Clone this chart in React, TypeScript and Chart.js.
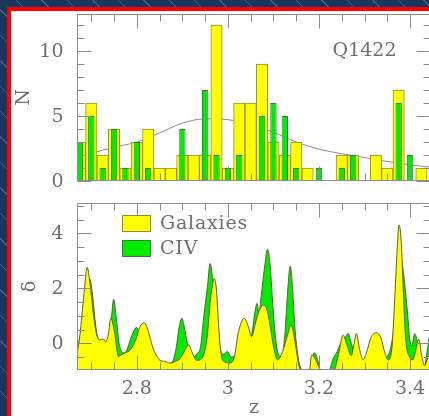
import React, { useEffect, useRef } from 'react';
import { Chart, registerables } from 'chart.js';

Chart.register(...registerables);

// ---- Histogram (upper panel): bin centres in z and counts per bin ----
const binZ = [2.675, 2.7, 2.725, 2.75, 2.775, 2.8, 2.825, 2.85, 2.875, 2.9, 2.925, 2.95, 2.975, 3.0, 3.025, 3.05,
  3.075, 3.1, 3.125, 3.15, 3.175, 3.2, 3.225, 3.25, 3.275, 3.3, 3.325, 3.35, 3.375, 3.4, 3.425, 3.45];
const galaxyCounts = [3, 6, 2, 4, 1, 3, 4, 1, 1, 2, 2, 2, 12, 1, 6, 6, 9, 3, 2, 3, 1, 0, 0, 2, 2, 0, 2, 1, 7, 0, 1, 0];
const civCounts = [3, 5, 1, 4, 1, 3, 1, 0, 0, 4, 0, 7, 2, 1, 2, 0, 5, 6, 5, 1, 0, 1, 0, 1, 2, 0, 0, 0, 6, 2, 0, 0];

// Smooth selection curve drawn under the histogram
const curveZ = [2.668, 2.70, 2.75, 2.80, 2.85, 2.90, 2.95, 3.00, 3.05, 3.10, 3.15, 3.20, 3.25, 3.30, 3.35, 3.40, 3.446];
const curveN = [1.95, 2.15, 2.6, 3.0, 3.7, 4.45, 4.78, 4.72, 4.35, 3.75, 3.0, 2.45, 2.1, 1.8, 1.5, 1.25, 1.05];

// ---- Overdensity (lower panel): [z, delta] ----
const galaxyDelta: [number, number][] = [
  [2.668, -0.45], [2.675, 0.3], [2.684, 1.8], [2.691, 2.76], [2.697, 2.2], [2.705, 1.0], [2.712, 0.3], [2.719, 0.12],
  [2.726, 0.16], [2.732, 0.05], [2.737, 0.3], [2.743, 0.91], [2.750, 0.5], [2.760, -0.49], [2.765, -0.42], [2.774, -0.35],
  [2.785, -0.25], [2.798, 0.15], [2.807, 0.6], [2.816, 0.75], [2.825, 0.45], [2.834, -0.1], [2.843, -0.45], [2.851, -0.62],
  [2.862, -0.66], [2.873, -0.72], [2.884, -0.66], [2.895, -0.55], [2.904, -0.3], [2.914, -0.06], [2.922, -0.35], [2.931, -0.62],
  [2.939, -0.6], [2.948, -0.35], [2.955, 0.3], [2.961, 1.5], [2.966, 2.1], [2.970, 2.36], [2.975, 1.9], [2.979, 0.8],
  [2.983, -0.1], [2.988, -0.6], [2.997, -0.7], [3.005, -0.72], [3.014, -0.5], [3.023, 0.4], [3.036, 0.91], [3.045, 0.6],
  [3.052, 0.24], [3.060, 0.7], [3.069, 1.2], [3.079, 1.39], [3.087, 1.15], [3.093, 0.6], [3.100, -0.1], [3.109, -0.6],
  [3.120, -0.3], [3.131, 0.3], [3.139, 0.67], [3.146, 0.2], [3.155, -0.73], [3.162, -1.1], [3.171, -1.3], [3.179, -1.0],
  [3.184, -0.43], [3.193, -0.6], [3.204, -1.05], [3.212, -1.3], [3.226, -1.2], [3.234, -1.0], [3.243, -0.4], [3.253, 0.3],
  [3.262, -0.1], [3.271, -0.45], [3.277, 0.0], [3.282, 0.36], [3.289, -0.2], [3.297, -0.6], [3.305, -0.3], [3.314, 0.2],
  [3.326, 0.39], [3.336, 0.2], [3.344, -0.3], [3.352, -0.6], [3.360, -0.2], [3.366, 1.5], [3.371, 3.2], [3.376, 4.3],
  [3.381, 3.6], [3.385, 2.0], [3.389, 0.5], [3.393, -0.2], [3.399, -0.5], [3.406, -0.6], [3.412, -0.3], [3.419, 0.15],
  [3.426, -0.5], [3.432, -0.8], [3.441, -0.4], [3.448, -0.2],
];
const civDelta: [number, number][] = [
  [2.668, -0.25], [2.675, 0.2], [2.682, 1.0], [2.689, 1.9], [2.697, 2.33], [2.703, 1.7], [2.710, 0.6], [2.717, 0.0],
  [2.723, -0.2], [2.730, -0.1], [2.737, 0.1], [2.744, 0.9], [2.749, 1.6], [2.755, 0.9], [2.761, 0.0], [2.767, -0.3],
  [2.772, -0.35], [2.779, -0.2], [2.785, 0.1], [2.792, 0.4], [2.799, 0.58], [2.805, 0.4], [2.812, 0.1], [2.818, -0.2],
  [2.829, -0.5], [2.840, -0.6], [2.851, -0.65], [2.864, -0.75], [2.877, -0.7], [2.886, -0.2], [2.893, 0.6], [2.899, 0.91],
  [2.904, 0.6], [2.911, 0.0], [2.918, -0.4], [2.924, -0.5], [2.932, -0.38], [2.940, -0.12], [2.947, 0.97], [2.955, 2.06],
  [2.961, 2.9], [2.966, 2.4], [2.970, 1.6], [2.977, 0.6], [2.983, -0.2], [2.990, -0.4], [2.999, -0.3], [3.007, -0.5],
  [3.016, -0.4], [3.025, 0.1], [3.032, 0.36], [3.040, 0.0], [3.047, -0.1], [3.054, 0.5], [3.064, 1.45], [3.068, 1.1],
  [3.073, 1.7], [3.080, 2.7], [3.087, 3.42], [3.093, 2.8], [3.099, 1.3], [3.107, -0.12], [3.118, -0.49], [3.125, 0.3],
  [3.130, 1.6], [3.137, 2.81], [3.142, 2.0], [3.147, 0.6], [3.154, -0.5], [3.160, -0.9], [3.167, -1.2], [3.176, -1.3],
  [3.182, -0.8], [3.190, -0.34], [3.197, -0.6], [3.203, -1.0], [3.212, -1.4], [3.223, -1.0], [3.230, -0.6], [3.240, -0.3],
  [3.248, 0.0], [3.256, 0.15], [3.264, 0.36], [3.271, 0.0], [3.278, -0.4], [3.285, -0.6], [3.294, -0.8], [3.305, -0.8],
  [3.316, -0.6], [3.327, -0.5], [3.338, -0.6], [3.349, -0.5], [3.357, -0.2], [3.364, 0.5], [3.371, 1.6], [3.377, 2.6],
  [3.381, 2.97], [3.386, 2.5], [3.391, 1.7], [3.395, 1.0], [3.399, 0.2], [3.404, -0.1], [3.410, 0.35], [3.417, 0.0],
  [3.424, -0.6], [3.430, -0.9], [3.438, -0.24], [3.443, 0.3], [3.448, 0.6],
];

// ---- Axis ranges, ticks and labels ----
const zRange = [2.6686, 3.446];
const nRange = [0, 12.85];
const deltaRange = [-0.97, 5.1];
const zTicks = [2.7, 2.75, 2.8, 2.85, 2.9, 2.95, 3.0, 3.05, 3.1, 3.15, 3.2, 3.25, 3.3, 3.35, 3.4];
const zMajorTicks = [2.8, 3.0, 3.2, 3.4];
const zTickLabels = ['2.8', '3', '3.2', '3.4'];
const nTicks = [0, 1, 2, 3, 4, 5, 6, 7, 8, 9, 10, 11, 12];
const nMajorTicks = [0, 5, 10];
const nTickLabels = ['0', '5', '10'];
const deltaTicks = [-0.5, 0, 0.5, 1, 1.5, 2, 2.5, 3, 3.5, 4, 4.5, 5];
const deltaMajorTicks = [0, 2, 4];
const deltaTickLabels = ['0', '2', '4'];
const seriesNames = ['Galaxies', 'CIV'];
const fieldName = 'Q1422';

const FONT_FAMILY = '"DejaVu Serif", "Liberation Serif", serif';
const INK = '#6f6f6f';
const AXIS = '#8a8a8a';
const YELLOW = '#ffff00';
const GREEN = '#00ec00';
const YELLOW_EDGE = '#8e8e3c';
const GREEN_EDGE = '#3a7a3a';
const CURVE_EDGE = '#5e5e34';

function drawFrame(chart: any, yTicks: number[], yMajor: number[]) {
  const { ctx, chartArea: a } = chart;
  const xs = chart.scales.x;
  const ys = chart.scales.y;
  const L = Math.round(a.left) + 0.5;
  const R = Math.round(a.right) - 0.5;
  const T = Math.round(a.top) + 0.5;
  const B = Math.round(a.bottom) - 0.5;
  ctx.save();
  ctx.strokeStyle = AXIS;
  ctx.lineWidth = 1;
  ctx.beginPath();
  ctx.rect(L, T, R - L, B - T);
  for (const v of zTicks) {
    const px = Math.round(xs.getPixelForValue(v)) + 0.5;
    const len = zMajorTicks.includes(v) ? 14 : 7;
    ctx.moveTo(px, T);
    ctx.lineTo(px, T + len);
    ctx.moveTo(px, B);
    ctx.lineTo(px, B - len);
  }
  for (const v of yTicks) {
    const py = Math.round(ys.getPixelForValue(v)) + 0.5;
    const len = yMajor.includes(v) ? 14 : 7;
    ctx.moveTo(L, py);
    ctx.lineTo(L + len, py);
    ctx.moveTo(R, py);
    ctx.lineTo(R - len, py);
  }
  ctx.stroke();
  ctx.restore();
}

function drawYLabels(chart: any, values: number[], labels: string[]) {
  const { ctx, chartArea: a } = chart;
  const ys = chart.scales.y;
  ctx.save();
  ctx.fillStyle = INK;
  ctx.font = `19px ${FONT_FAMILY}`;
  ctx.textAlign = 'right';
  ctx.textBaseline = 'middle';
  values.forEach((v, i) => ctx.fillText(labels[i], a.left - 13.5, ys.getPixelForValue(v) + 1));
  ctx.restore();
}

function drawRotated(ctx: CanvasRenderingContext2D, text: string, x: number, y: number, size: number) {
  ctx.save();
  ctx.fillStyle = INK;
  ctx.font = `${size}px ${FONT_FAMILY}`;
  ctx.textAlign = 'center';
  ctx.textBaseline = 'middle';
  ctx.translate(x, y);
  ctx.rotate(-Math.PI / 2);
  ctx.fillText(text, 0, 0);
  ctx.restore();
}

const histogramDecor = {
  id: 'histogramDecor',
  afterDatasetsDraw(chart: any) {
    const { ctx, chartArea: a } = chart;
    drawFrame(chart, nTicks, nMajorTicks);
    drawYLabels(chart, nMajorTicks, nTickLabels);
    drawRotated(ctx, 'N', 24, (a.top + a.bottom) / 2, 19);
    ctx.save();
    ctx.fillStyle = INK;
    ctx.font = `19px ${FONT_FAMILY}`;
    ctx.textAlign = 'center';
    ctx.textBaseline = 'middle';
    ctx.fillText(fieldName, chart.scales.x.getPixelForValue(3.3), chart.scales.y.getPixelForValue(10));
    ctx.restore();
  },
};

const deltaDecor = {
  id: 'deltaDecor',
  afterDatasetsDraw(chart: any) {
    const { ctx, chartArea: a } = chart;
    const xs = chart.scales.x;
    drawFrame(chart, deltaTicks, deltaMajorTicks);
    drawYLabels(chart, deltaMajorTicks, deltaTickLabels);
    drawRotated(ctx, 'δ', 30, (a.top + a.bottom) / 2, 19);

    ctx.save();
    ctx.fillStyle = INK;
    ctx.font = `19px ${FONT_FAMILY}`;
    ctx.textAlign = 'center';
    ctx.textBaseline = 'middle';
    zMajorTicks.forEach((v, i) => ctx.fillText(zTickLabels[i], xs.getPixelForValue(v), a.bottom + 19));
    ctx.fillText('z', (a.left + a.right) / 2, a.bottom + 38);

    // legend
    const swatches = [
      { fill: YELLOW, edge: YELLOW_EDGE },
      { fill: GREEN, edge: GREEN_EDGE },
    ];
    ctx.textAlign = 'left';
    ctx.letterSpacing = '0.8px';
    swatches.forEach((s, i) => {
      const top = a.top + 12 + i * 25;
      ctx.fillStyle = s.fill;
      ctx.fillRect(a.left + 45, top, 29, 17);
      ctx.strokeStyle = s.edge;
      ctx.lineWidth = 1;
      ctx.strokeRect(a.left + 45.5, top + 0.5, 28, 16);
      ctx.fillStyle = INK;
      ctx.fillText(seriesNames[i], a.left + 83, top + 9.5);
    });
    ctx.restore();
  },
};

const commonScales = (yRange: number[]) => ({
  x: {
    type: 'linear' as const,
    min: zRange[0],
    max: zRange[1],
    display: false,
    offset: false,
    grid: { offset: false },
    ticks: { stepSize: 0.1 },
  },
  y: { type: 'linear' as const, min: yRange[0], max: yRange[1], display: false },
});

export default function App() {
  const topRef = useRef<HTMLCanvasElement>(null);
  const bottomRef = useRef<HTMLCanvasElement>(null);

  useEffect(() => {
    const histogram = new Chart(topRef.current as HTMLCanvasElement, {
      type: 'bar',
      data: {
        datasets: [
          {
            type: 'line',
            data: curveZ.map((z, i) => ({ x: z, y: curveN[i] })),
            borderColor: '#8c8c8c',
            borderWidth: 1,
            pointRadius: 0,
            cubicInterpolationMode: 'monotone',
            fill: false,
            order: 3,
            clip: 0,
          } as any,
          {
            type: 'bar',
            label: seriesNames[0],
            data: binZ.map((z, i) => ({ x: z, y: galaxyCounts[i] > 0 ? galaxyCounts[i] : null })),
            backgroundColor: YELLOW,
            borderColor: YELLOW_EDGE,
            borderWidth: 1,
            barPercentage: 1,
            categoryPercentage: 1,
            grouped: false,
            order: 2,
            clip: 0,
          } as any,
          {
            type: 'bar',
            label: seriesNames[1],
            data: binZ.map((z, i) => ({ x: z, y: civCounts[i] > 0 ? civCounts[i] : null })),
            backgroundColor: GREEN,
            borderColor: GREEN_EDGE,
            borderWidth: 1,
            barPercentage: 0.56,
            categoryPercentage: 1,
            grouped: false,
            order: 1,
            clip: 0,
          } as any,
        ],
      },
      options: {
        responsive: false,
        animation: false,
        events: [],
        layout: { padding: { left: 77, right: 9, top: 14, bottom: 235 } },
        plugins: { legend: { display: false }, tooltip: { enabled: false } },
        scales: commonScales(nRange) as any,
      },
      plugins: [histogramDecor],
    });

    const overdensity = new Chart(bottomRef.current as HTMLCanvasElement, {
      type: 'line',
      data: {
        datasets: [
          {
            label: seriesNames[1],
            data: civDelta.map(([z, d]) => ({ x: z, y: d })),
            backgroundColor: GREEN,
            borderColor: CURVE_EDGE,
            borderWidth: 1,
            pointRadius: 0,
            cubicInterpolationMode: 'monotone',
            fill: 'start',
            order: 2,
            clip: 0,
          } as any,
          {
            label: seriesNames[0],
            data: galaxyDelta.map(([z, d]) => ({ x: z, y: d })),
            backgroundColor: YELLOW,
            borderColor: CURVE_EDGE,
            borderWidth: 1,
            pointRadius: 0,
            cubicInterpolationMode: 'monotone',
            fill: 'start',
            order: 1,
            clip: 0,
          } as any,
        ],
      },
      options: {
        responsive: false,
        animation: false,
        events: [],
        layout: { padding: { left: 77, right: 9, top: 203, bottom: 46 } },
        plugins: { legend: { display: false }, tooltip: { enabled: false } },
        scales: commonScales(deltaRange) as any,
      },
      plugins: [deltaDecor],
    });

    return () => {
      histogram.destroy();
      overdensity.destroy();
    };
  }, []);

  return (
    <div
      style={{
        position: 'fixed',
        left: 0,
        top: 0,
        width: 429,
        height: 416,
        overflow: 'hidden',
        backgroundColor: '#17385a',
        backgroundImage:
          'repeating-linear-gradient(45deg, rgba(0,0,0,0) 0px, rgba(0,0,0,0) 17px, rgba(120,150,180,0.45) 17px, rgba(120,150,180,0.45) 18px)',
      }}
    >
      <div
        style={{
          position: 'absolute',
          left: 7,
          top: 7,
          width: 450,
          height: 450,
          borderLeft: '4px solid #ff0000',
          borderTop: '4px solid #ff0000',
          background: '#ffffff',
        }}
      />
      <canvas ref={topRef} width={440} height={416} style={{ position: 'absolute', left: 0, top: 0 }} />
      <canvas ref={bottomRef} width={440} height={416} style={{ position: 'absolute', left: 0, top: 0 }} />
    </div>
  );
}
